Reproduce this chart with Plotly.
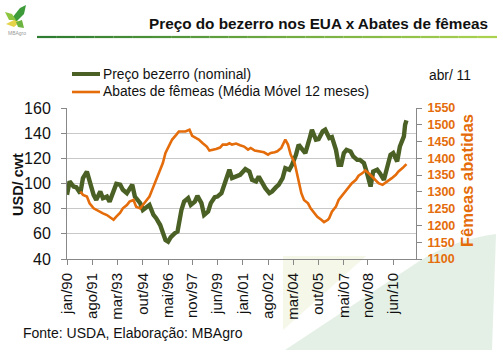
import plotly.graph_objects as go

# ---------------- data ----------------
price_dates = ["1990-01","1990-03","1990-06","1990-08","1990-11","1991-01","1991-04","1991-06","1991-09","1991-11",
               "1992-02","1992-04","1992-07","1992-09","1992-12","1993-02","1993-05","1993-07","1993-10","1993-12",
               "1994-02","1994-04","1994-08","1994-10","1995-01","1995-03","1995-06","1995-08","1995-11","1996-01",
               "1996-03","1996-05","1996-07","1996-10","1996-12","1997-03","1997-05","1997-08","1997-10","1998-01",
               "1998-03","1998-06","1998-08","1998-11","1999-01","1999-04","1999-06","1999-09","1999-11","2000-02",
               "2000-03","2000-05","2000-08","2000-11","2001-03","2001-06","2001-08","2001-11","2002-01","2002-04",
               "2002-06","2002-09","2002-11","2003-02","2003-04","2003-07","2003-09","2003-12","2004-02","2004-05",
               "2004-07","2004-10","2004-12","2005-03","2005-05","2005-08","2005-10","2006-01","2006-03","2006-06",
               "2006-08","2006-11","2007-01","2007-03","2007-05","2007-07","2007-10","2007-12","2008-03","2008-05",
               "2008-08","2008-10","2009-01","2009-03","2009-06","2009-08","2009-11","2010-01","2010-04","2010-06",
               "2010-09","2010-11","2011-02","2011-03","2011-04"]
price_values = [91,101.6,97.6,97,92.3,104.3,109.5,101.6,91,87,
                93.6,88.3,89.6,85.6,95,99.7,99,95,92.3,96.3,
                99,89.6,84.4,79,81.7,83,75,72.4,67,61.7,
                55.1,53.8,57.3,60.5,61.7,79,85.6,88.3,83,85.6,
                90.2,84.4,75,77.7,84.4,89.1,89.6,92.3,99,108.2,
                110.9,104.3,105.5,106.9,111.4,109.5,102.9,101.6,105.5,99,
                96.3,92.3,93.6,97.1,99,104.3,112.2,110.9,114.9,122.8,
                130.8,126.8,124.2,134.8,142.7,134.8,135.3,141.4,142.7,136.1,
                136.9,126.8,114.9,114.9,124.2,126.8,125.5,121.5,118.8,118.8,
                116.2,109.5,97.6,109.5,110.9,108.2,102.9,110.9,122.8,124.2,
                117.5,129.4,137.4,146.7,150.1]

slaughter_dates = ["1990-11","1991-01","1991-04","1991-06","1991-09","1991-11","1992-02","1992-04","1992-07","1992-09",
                   "1992-12","1993-02","1993-05","1993-07","1993-10","1993-12","1994-03","1994-05","1994-08","1994-10",
                   "1995-01","1995-03","1995-05","1995-08","1995-10","1996-01","1996-03","1996-06","1996-08","1996-11",
                   "1997-01","1997-04","1997-06","1997-09","1997-11","1998-02","1998-04","1998-07","1998-10","1998-12",
                   "1999-02","1999-05","1999-08","1999-10","2000-01","2000-03","2000-05","2000-08","2000-11","2001-02",
                   "2001-05","2001-07","2001-10","2001-12","2002-03","2002-05","2002-08","2002-10","2003-01","2003-03",
                   "2003-06","2003-08","2003-09","2003-11","2004-01","2004-04","2004-06","2004-09","2004-11","2005-02",
                   "2005-04","2005-07","2005-09","2005-12","2006-02","2006-05","2006-06","2006-08","2006-11","2007-01",
                   "2007-04","2007-06","2007-09","2007-11","2008-02","2008-04","2008-07","2008-09","2008-12","2009-02",
                   "2009-05","2009-07","2009-10","2009-12","2010-03","2010-05","2010-08","2010-10","2011-01","2011-03",
                   "2011-04"]
slaughter_values = [1301,1291,1286,1266,1251,1246,1241,1236,1231,1226,
                    1217,1226,1238,1251,1261,1271,1276,1256,1251,1261,
                    1276,1286,1306,1336,1361,1386,1416,1441,1456,1470,
                    1480,1480,1480,1485,1467,1460,1456,1445,1435,1423,
                    1426,1428,1432,1441,1441,1445,1441,1444,1439,1435,
                    1426,1431,1423,1422,1421,1418,1411,1416,1418,1421,
                    1431,1445,1456,1441,1411,1386,1346,1296,1276,1266,
                    1251,1236,1226,1217,1210,1217,1222,1241,1256,1276,
                    1291,1301,1314,1326,1336,1348,1356,1364,1354,1346,
                    1336,1326,1321,1326,1334,1341,1351,1361,1371,1381,
                    1383]

tick_dates = ["1990-01-01","1991-08-01","1993-03-01","1994-10-01","1996-05-01","1997-11-01","1999-06-01",
              "2001-01-01","2002-08-01","2004-03-01","2005-10-01","2007-05-01","2008-11-01","2010-06-01"]
tick_labels = ["jan/90","ago/91","mar/93","out/94","mai/96","nov/97","jun/99",
               "jan/01","ago/02","mar/04","out/05","mai/07","nov/08","jun/10"]

# ---------------- layout helpers ----------------
W, H = 503, 353
X0, X1, Y0, Y1 = 67, 416, 108, 259  # plot area in pixels
def px(x):
    return (x - X0) / (X1 - X0)
def py(y):
    return (Y1 - y) / (Y1 - Y0)

FONT = "Liberation Sans, Arial, sans-serif"
GREEN = "#4A6024"
ORANGE = "#E46C0A"

fig = go.Figure()
fig.add_trace(go.Scatter(x=slaughter_dates, y=slaughter_values, yaxis="y2", mode="lines",
                         line=dict(color=ORANGE, width=2.6), showlegend=False, hoverinfo="skip"))
fig.add_trace(go.Scatter(x=price_dates, y=price_values, mode="lines",
                         line=dict(color=GREEN, width=4.4), showlegend=False, hoverinfo="skip"))

shapes = []
def path(points):
    return "M " + " L ".join(f"{px(a):.4f},{py(b):.4f}" for a, b in points) + " Z"
# background swoosh
shapes.append(dict(type="path", xref="paper", yref="paper", layer="below", line=dict(width=0),
                   fillcolor="#F5F7E8",
                   path=path([(283, 256), (366, 256), (283, 330)])))
shapes.append(dict(type="path", xref="paper", yref="paper", layer="below", line=dict(width=0),
                   fillcolor="#E4F0E6",
                   path="M {},{} L {},{} Q {},{} {},{} L {},{} L {},{} Z".format(
                       px(285), py(350), px(418), py(262), px(452), py(240), px(496), py(234),
                       px(492), py(350), px(285), py(350))))
# title underline gradient
c0 = (46, 125, 50); c1 = (170, 210, 80)
n = 24
for i in range(n):
    t = i / (n - 1)
    col = "rgb({},{},{})".format(*[int(a + (b - a) * t) for a, b in zip(c0, c1)])
    xa = 37 + (497 - 37) * i / n
    xb = 37 + (497 - 37) * (i + 1) / n
    shapes.append(dict(type="line", xref="paper", yref="paper", x0=px(xa), x1=px(xb),
                       y0=py(37), y1=py(37), line=dict(color=col, width=2.2)))
# logo leaves
shapes.append(dict(type="path", xref="paper", yref="paper", line=dict(width=0), fillcolor="#3E9B3A",
                   path=path([(12, 18), (20, 8), (26, 5), (24, 14), (16, 22)])))
shapes.append(dict(type="path", xref="paper", yref="paper", line=dict(width=0), fillcolor="#8CC63F",
                   path=path([(5, 12), (12, 14), (16, 20), (9, 20)])))
shapes.append(dict(type="path", xref="paper", yref="paper", line=dict(width=0), fillcolor="#E5D34A",
                   path=path([(6, 24), (14, 20), (20, 22), (14, 27)])))
shapes.append(dict(type="path", xref="paper", yref="paper", line=dict(width=0), fillcolor="#6DB33F",
                   path=path([(16, 22), (22, 20), (24, 28), (18, 27)])))
# legend line samples
shapes.append(dict(type="line", xref="paper", yref="paper", x0=px(72), x1=px(100), y0=py(74), y1=py(74),
                   line=dict(color=GREEN, width=4)))
shapes.append(dict(type="line", xref="paper", yref="paper", x0=px(72), x1=px(100), y0=py(92), y1=py(92),
                   line=dict(color=ORANGE, width=2.6)))

annotations = [
    dict(text="<b>Preço do bezerro nos EUA x Abates de fêmeas</b>", x=px(490), y=py(23), xanchor="right",
         yanchor="middle", font=dict(size=15.3, color="#111111", family=FONT)),
    dict(text="MBAgro", x=px(6), y=py(33), xanchor="left", yanchor="middle",
         font=dict(size=5, color="#999999", family=FONT)),
    dict(text="Preço bezerro (nominal)", x=px(101), y=py(74), xanchor="left", yanchor="middle",
         font=dict(size=13.8, color="#111111", family=FONT)),
    dict(text="Abates de fêmeas (Média Móvel 12 meses)", x=px(101), y=py(92), xanchor="left", yanchor="middle",
         font=dict(size=13.8, color="#111111", family=FONT)),
    dict(text="abr/ 11", x=px(427), y=py(75), xanchor="left", yanchor="middle",
         font=dict(size=13.8, color="#111111", family=FONT)),
    dict(text="<b>USD/ cwt</b>", x=px(18), y=py(185), xanchor="center", yanchor="middle", textangle=-90,
         font=dict(size=14.5, color="#111111", family=FONT)),
    dict(text="<b>Fêmeas abatidas</b>", x=px(467), y=py(181), xanchor="center", yanchor="middle", textangle=-90,
         font=dict(size=16.5, color=ORANGE, family=FONT)),
    dict(text="Fonte: USDA, Elaboração: MBAgro", x=px(21), y=py(333), xanchor="left", yanchor="middle",
         font=dict(size=14, color="#111111", family=FONT)),
]
for a in annotations:
    a.update(xref="paper", yref="paper", showarrow=False)

fig.update_layout(
    width=W, height=H,
    margin=dict(l=X0, r=W - X1, t=Y0, b=H - Y1, pad=0),
    paper_bgcolor="white", plot_bgcolor="rgba(0,0,0,0)",
    font=dict(family=FONT, color="#111111"),
    shapes=shapes, annotations=annotations, showlegend=False,
    xaxis=dict(type="date", range=["1990-01-01", "2011-11-05"], tickvals=tick_dates, ticktext=tick_labels,
               tickangle=-90, ticks="outside", ticklen=5, tickcolor="#888888", showgrid=False,
               showline=True, linecolor="#888888", linewidth=1, zeroline=False, ticklabelstandoff=2,
               tickfont=dict(size=15, color="#111111", family=FONT)),
    yaxis=dict(range=[40, 160], dtick=20, showgrid=True, gridcolor="#C8C8C8", gridwidth=1,
               showline=True, linecolor="#888888", linewidth=1, ticks="outside", ticklen=5,
               ticklabelstandoff=7,
               tickcolor="#888888", zeroline=False, tickfont=dict(size=16, color="#111111", family=FONT)),
    yaxis2=dict(range=[1100, 1550], dtick=50, overlaying="y", side="right", showgrid=False,
                showline=True, linecolor="#888888", linewidth=1, ticks="outside", ticklen=5,
                ticklabelstandoff=3,
                tickcolor="#888888", zeroline=False,
                tickfont=dict(size=12.5, color=ORANGE, family=FONT, weight="bold")),
)

fig.write_html("out.html")
